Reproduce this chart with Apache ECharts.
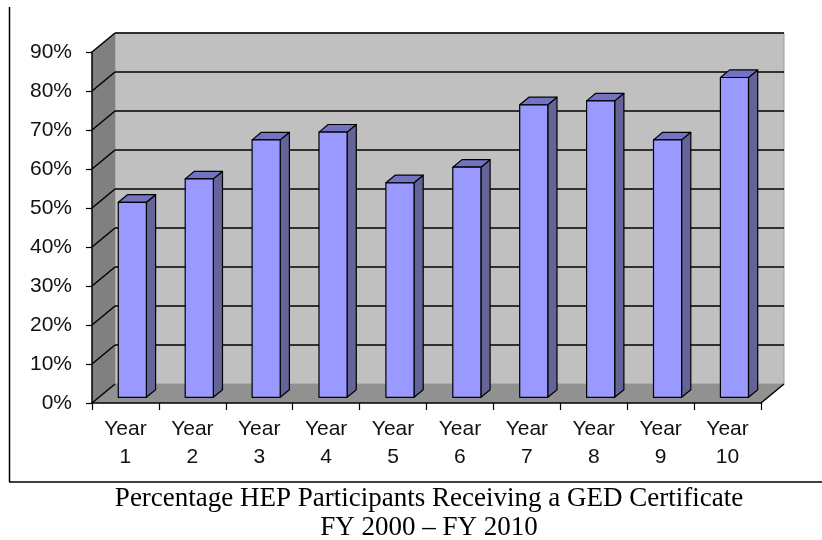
<!DOCTYPE html>
<html>
<head>
<meta charset="utf-8">
<script src="https://cdn.jsdelivr.net/npm/echarts@6/dist/echarts.min.js"></script>
<style>
  html, body { margin: 0; padding: 0; background: #fff; }
  #chart { width: 822px; height: 540px; }
</style>
</head>
<body>
<div id="chart"></div>
<script>
var categories = ['Year\n1', 'Year\n2', 'Year\n3', 'Year\n4', 'Year\n5', 'Year\n6', 'Year\n7', 'Year\n8', 'Year\n9', 'Year\n10']
var gedPercent = [50, 56, 66, 68, 55, 59, 75, 76, 66, 82]
var tickValues = [0, 10, 20, 30, 40, 50, 60, 70, 80, 90]
var titleLines = ['Percentage HEP Participants Receiving a GED Certificate', 'FY 2000 \u2013 FY 2010']

// depth of the fake 3d box, in pixels
const DX = 23
const DY = -19

var chart = echarts.init(document.getElementById('chart'), null, {renderer: 'canvas'})

const renderWalls = (params, api) => {
    let cs = params.coordSys
    let x0 = cs.x, x1 = cs.x + cs.width
    let yT = cs.y, yB = cs.y + cs.height
    return {
        type: 'group',
        children: [
            { type: 'polygon', shape: { points: [[x0 + DX, yT + DY], [x1 + DX, yT + DY], [x1 + DX, yB + DY], [x0 + DX, yB + DY]] },
              style: { fill: '#c0c0c0', stroke: '#9a9a9a', lineWidth: 1 } },
            { type: 'polygon', shape: { points: [[x0, yB], [x0, yT], [x0 + DX, yT + DY], [x0 + DX, yB + DY]] },
              style: { fill: '#808080' } },
            { type: 'polygon', shape: { points: [[x0, yB], [x1, yB], [x1 + DX, yB + DY], [x0 + DX, yB + DY]] },
              style: { fill: '#919191' } },
            { type: 'line', shape: { x1: x0, y1: yB, x2: x0 + DX, y2: yB + DY }, style: { stroke: '#b0b0b0', lineWidth: 1 } },
            { type: 'line', shape: { x1: x1, y1: yB, x2: x1 + DX, y2: yB + DY }, style: { stroke: '#000', lineWidth: 1.5 } }
        ]
    }
}

const renderGridLine = (params, api) => {
    let cs = params.coordSys
    let v = api.value(0)
    let y = api.coord([0, v])[1]
    let x0 = cs.x, x1 = cs.x + cs.width
    let kids = [
        { type: 'line', shape: { x1: x0, y1: y, x2: x0 + DX, y2: y + DY }, style: { stroke: '#000', lineWidth: 1.5 } }
    ]
    if (v > 0) {
        kids.push({ type: 'line', shape: { x1: x0 + DX, y1: y + DY, x2: x1 + DX, y2: y + DY }, style: { stroke: '#000', lineWidth: 1.6 } })
    }
    return { type: 'group', children: kids }
}

const renderBar = (params, api) => {
    let i = api.value(0)
    let v = api.value(1)
    let base = api.coord([i, 0])
    let top = api.coord([i, v])
    let w = api.size([1, 0])[0] * 0.42
    let fx = DX * 0.3, fy = DY * 0.3
    let dx = DX * 0.4, dy = DY * 0.4
    let xa = base[0] - w / 2 + fx
    let xb = xa + w
    let yb = base[1] + fy
    let yt = top[1] + fy
    let st = { stroke: '#000', lineWidth: 1.2, lineJoin: 'round' }
    return {
        type: 'group',
        children: [
            { type: 'polygon', shape: { points: [[xb, yt], [xb + dx, yt + dy], [xb + dx, yb + dy], [xb, yb]] },
              style: Object.assign({ fill: '#646499' }, st) },
            { type: 'polygon', shape: { points: [[xa, yt], [xb, yt], [xb + dx, yt + dy], [xa + dx, yt + dy]] },
              style: Object.assign({ fill: '#7373c4' }, st) },
            { type: 'rect', shape: { x: xa, y: yt, width: w, height: yb - yt },
              style: Object.assign({ fill: '#9999ff' }, st) }
        ]
    }
}

let option = {
    animation: false,
    title: {
        text: titleLines.join('\n'),
        left: 424,
        top: 479,
        textAlign: 'center',
        textStyle: { fontFamily: 'Liberation Serif', fontSize: 27, fontWeight: 'normal', color: '#000', lineHeight: 29 }
    },
    grid: { left: 92, right: 61, top: 52, bottom: 137, containLabel: false },
    xAxis: {
        type: 'category',
        data: categories,
        z: 10,
        axisLine: { show: true, lineStyle: { color: '#000', width: 1.5 } },
        axisTick: { show: true, length: 7, lineStyle: { color: '#000', width: 1.2 } },
        axisLabel: { margin: 12, fontFamily: 'Liberation Sans', fontSize: 21, color: '#111', lineHeight: 28 },
        splitLine: { show: false }
    },
    yAxis: {
        type: 'value',
        min: 0,
        max: 90,
        interval: 10,
        z: 10,
        axisLine: { show: true, lineStyle: { color: '#000', width: 1.5 } },
        axisTick: { show: true, length: 6, lineStyle: { color: '#000', width: 1.2 } },
        axisLabel: { margin: 20, fontFamily: 'Liberation Sans', fontSize: 21, color: '#111', formatter: '{value}%' },
        splitLine: { show: false }
    },
    graphic: [
        { type: 'line', shape: { x1: 9.5, y1: 7, x2: 9.5, y2: 482 }, style: { stroke: '#000', lineWidth: 1.5 } },
        { type: 'line', shape: { x1: 9, y1: 482, x2: 822, y2: 482 }, style: { stroke: '#000', lineWidth: 1.5 } }
    ],
    series: [
        { type: 'custom', z: 1, renderItem: renderWalls, data: [0], silent: true },
        { type: 'custom', z: 2, renderItem: renderGridLine, data: tickValues.map(v => [v]), silent: true },
        { type: 'custom', z: 3, renderItem: renderBar, data: gedPercent.map((v, i) => [i, v]) }
    ]
}
chart.setOption(option)
</script>
</body>
</html>
